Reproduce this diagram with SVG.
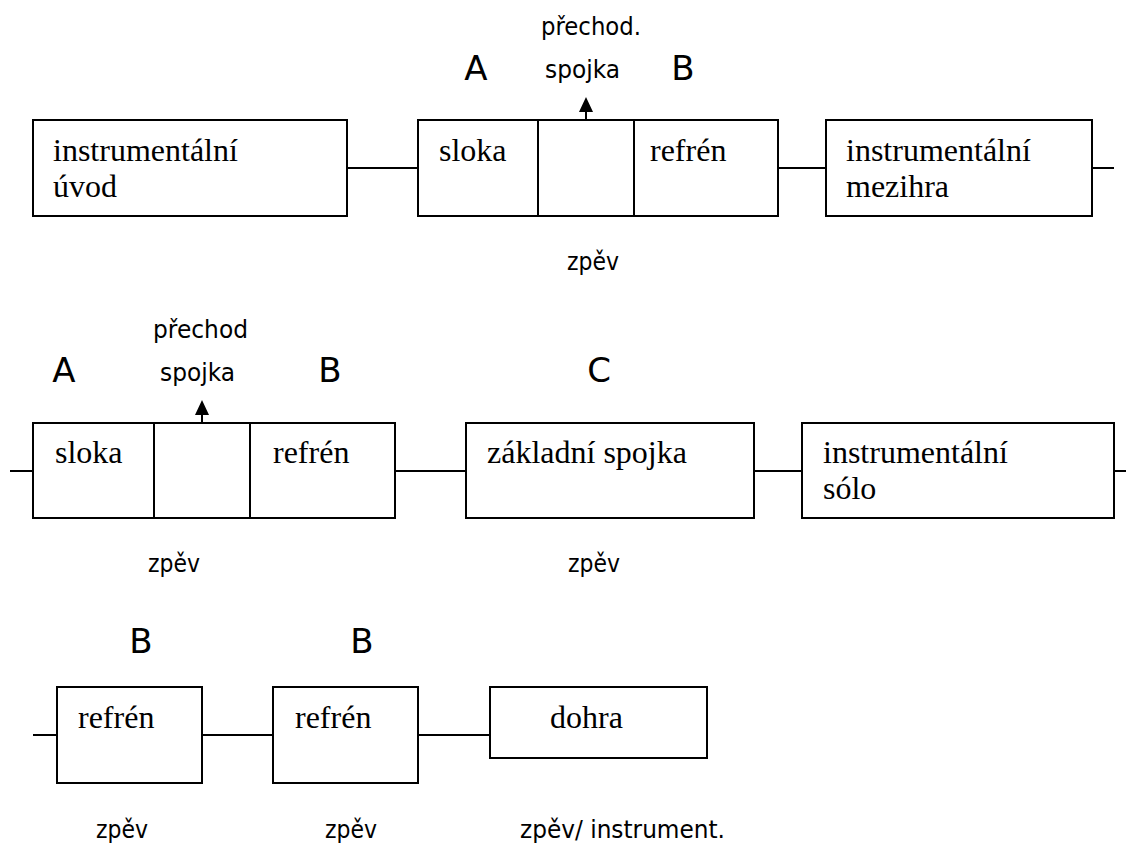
<svg xmlns="http://www.w3.org/2000/svg" width="1126" height="848" viewBox="0 0 1126 848">
<defs>
<style>
.box{fill:#fff;stroke:#000;stroke-width:2}
.ln{stroke:#000;stroke-width:2;fill:none}
.t{font-family:"Liberation Serif","Times New Roman",serif;font-size:32px;fill:#000}
.s{font-family:"DejaVu Sans",Tahoma,Verdana,sans-serif;font-size:25px;fill:#000}
.big{font-family:"DejaVu Sans",Tahoma,Verdana,sans-serif;font-size:34px;fill:#000}
</style>
</defs>
<rect width="1126" height="848" fill="#fff"/>

<g id="connectors">
<line class="ln" x1="347" y1="168" x2="418" y2="168"/>
<line class="ln" x1="778" y1="168" x2="826" y2="168"/>
<line class="ln" x1="1092" y1="168" x2="1114" y2="168"/>
<line class="ln" x1="10" y1="471" x2="33" y2="471"/>
<line class="ln" x1="395" y1="471" x2="466" y2="471"/>
<line class="ln" x1="754" y1="471" x2="802" y2="471"/>
<line class="ln" x1="1114" y1="471" x2="1126" y2="471"/>
<line class="ln" x1="33" y1="735" x2="57" y2="735"/>
<line class="ln" x1="202" y1="735" x2="273" y2="735"/>
<line class="ln" x1="418" y1="735" x2="490" y2="735"/>
<line class="ln" x1="586" y1="145" x2="586" y2="110"/>
<polygon points="586,97 579,112 593,112" fill="#000"/>
<line class="ln" x1="202" y1="447" x2="202" y2="413"/>
<polygon points="202,400 195,415 209,415" fill="#000"/>
</g>

<g id="intro">
<rect class="box" x="33" y="120" width="314" height="96"/>
<text class="t" x="53" y="161">instrumentální</text>
<text class="t" x="53" y="197">úvod</text>
</g>

<g id="group1">
<rect class="box" x="418" y="120" width="360" height="96"/>
<line class="ln" x1="538" y1="120" x2="538" y2="216"/>
<line class="ln" x1="634" y1="120" x2="634" y2="216"/>
<text class="t" x="439" y="161">sloka</text>
<text class="t" x="650" y="161">refrén</text>
<text class="big" x="476" y="80" text-anchor="middle">A</text>
<text class="big" x="683" y="80" text-anchor="middle">B</text>
<text class="s" x="541" y="35" textLength="100" lengthAdjust="spacingAndGlyphs">přechod.</text>
<text class="s" x="545" y="78" textLength="75" lengthAdjust="spacingAndGlyphs">spojka</text>
<text class="s" x="567" y="270" textLength="52" lengthAdjust="spacingAndGlyphs">zpěv</text>
</g>

<g id="mezihra">
<rect class="box" x="826" y="120" width="266" height="96"/>
<text class="t" x="846" y="161">instrumentální</text>
<text class="t" x="846" y="197">mezihra</text>
</g>

<g id="group2">
<rect class="box" x="33" y="423" width="362" height="95"/>
<line class="ln" x1="154" y1="423" x2="154" y2="518"/>
<line class="ln" x1="250" y1="423" x2="250" y2="518"/>
<text class="t" x="55" y="463">sloka</text>
<text class="t" x="273" y="463">refrén</text>
<text class="big" x="64" y="382" text-anchor="middle">A</text>
<text class="big" x="330" y="382" text-anchor="middle">B</text>
<text class="s" x="153" y="338" textLength="95" lengthAdjust="spacingAndGlyphs">přechod</text>
<text class="s" x="160" y="381" textLength="75" lengthAdjust="spacingAndGlyphs">spojka</text>
<text class="s" x="148" y="572" textLength="52" lengthAdjust="spacingAndGlyphs">zpěv</text>
</g>

<g id="zakladni">
<rect class="box" x="466" y="423" width="288" height="95"/>
<text class="t" x="487" y="463">základní spojka</text>
<text class="big" x="599" y="382" text-anchor="middle">C</text>
<text class="s" x="568" y="572" textLength="52" lengthAdjust="spacingAndGlyphs">zpěv</text>
</g>

<g id="solo">
<rect class="box" x="802" y="423" width="312" height="95"/>
<text class="t" x="823" y="463">instrumentální</text>
<text class="t" x="823" y="499">sólo</text>
</g>

<g id="refren1">
<rect class="box" x="57" y="687" width="145" height="96"/>
<text class="t" x="78" y="728">refrén</text>
<text class="big" x="141" y="653" text-anchor="middle">B</text>
<text class="s" x="96" y="838" textLength="52" lengthAdjust="spacingAndGlyphs">zpěv</text>
</g>

<g id="refren2">
<rect class="box" x="273" y="687" width="145" height="96"/>
<text class="t" x="295" y="728">refrén</text>
<text class="big" x="362" y="653" text-anchor="middle">B</text>
<text class="s" x="325" y="838" textLength="52" lengthAdjust="spacingAndGlyphs">zpěv</text>
</g>

<g id="dohra">
<rect class="box" x="490" y="687" width="217" height="71"/>
<text class="t" x="550" y="728">dohra</text>
<text class="s" x="520" y="838" textLength="205" lengthAdjust="spacingAndGlyphs">zpěv/ instrument.</text>
</g>
</svg>
